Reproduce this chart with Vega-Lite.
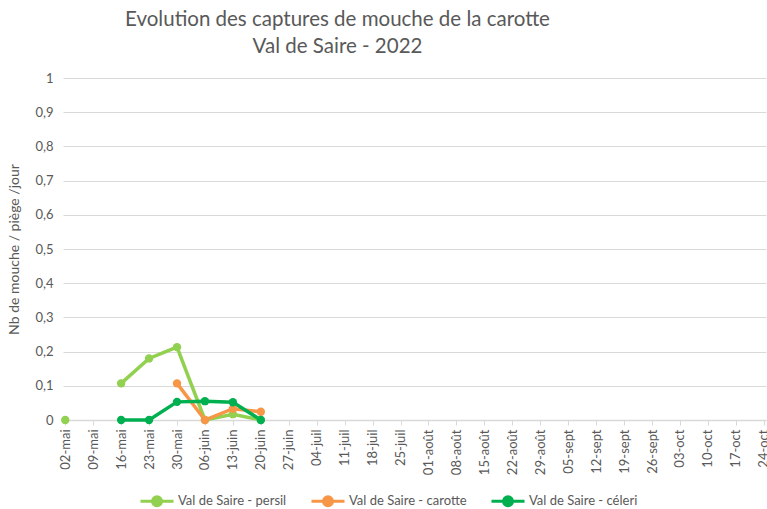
{
  "$schema": "https://vega.github.io/schema/vega-lite/v6.json",
  "width": 703,
  "height": 342,
  "autosize": {"type": "none"},
  "padding": {"left": 63, "top": 78, "right": 1, "bottom": 89},
  "background": "white",
  "title": {
    "text": ["Evolution des captures de mouche de la carotte", "Val de Saire - 2022"],
    "font": "Lato",
    "fontSize": 20.5,
    "fontWeight": "normal",
    "color": "#595959",
    "lineHeight": 27,
    "anchor": "middle",
    "dx": -77,
    "offset": 15
  },
  "config": {
    "view": {"stroke": null},
    "font": "Lato"
  },
  "data": {
    "values": [
      {"date": "02-mai", "serie": "Val de Saire - persil", "v": 0},
      {"date": "09-mai", "serie": "Val de Saire - persil", "v": null},
      {"date": "16-mai", "serie": "Val de Saire - persil", "v": 0.107},
      {"date": "23-mai", "serie": "Val de Saire - persil", "v": 0.18},
      {"date": "30-mai", "serie": "Val de Saire - persil", "v": 0.213},
      {"date": "06-juin", "serie": "Val de Saire - persil", "v": 0},
      {"date": "13-juin", "serie": "Val de Saire - persil", "v": 0.017},
      {"date": "20-juin", "serie": "Val de Saire - persil", "v": 0},
      {"date": "30-mai", "serie": "Val de Saire - carotte", "v": 0.107},
      {"date": "06-juin", "serie": "Val de Saire - carotte", "v": 0},
      {"date": "13-juin", "serie": "Val de Saire - carotte", "v": 0.033},
      {"date": "20-juin", "serie": "Val de Saire - carotte", "v": 0.024},
      {"date": "16-mai", "serie": "Val de Saire - céleri", "v": 0},
      {"date": "23-mai", "serie": "Val de Saire - céleri", "v": 0},
      {"date": "30-mai", "serie": "Val de Saire - céleri", "v": 0.053},
      {"date": "06-juin", "serie": "Val de Saire - céleri", "v": 0.055},
      {"date": "13-juin", "serie": "Val de Saire - céleri", "v": 0.052},
      {"date": "20-juin", "serie": "Val de Saire - céleri", "v": 0}
    ]
  },
  "encoding": {
    "x": {
      "field": "date",
      "type": "ordinal",
      "scale": {
        "type": "point",
        "padding": 0.08,
        "domain": ["02-mai", "09-mai", "16-mai", "23-mai", "30-mai", "06-juin", "13-juin", "20-juin", "27-juin", "04-juil", "11-juil", "18-juil", "25-juil", "01-août", "08-août", "15-août", "22-août", "29-août", "05-sept", "12-sept", "19-sept", "26-sept", "03-oct", "10-oct", "17-oct", "24-oct"]
      },
      "axis": {
        "title": null,
        "labelAngle": -90,
        "labelFont": "Lato",
        "labelFontSize": 13,
        "labelColor": "#595959",
        "labelPadding": 4,
        "labelOverlap": false,
        "domainColor": "#d9d9d9",
        "domainWidth": 1.5,
        "tickColor": "#d9d9d9",
        "tickSize": 5,
        "grid": false
      }
    },
    "y": {
      "field": "v",
      "type": "quantitative",
      "scale": {"domain": [0, 1], "nice": false},
      "axis": {
        "title": "Nb de mouche / piège /jour",
        "titleFont": "Lato",
        "titleFontSize": 14,
        "titleFontWeight": "normal",
        "titleColor": "#595959",
        "titlePadding": 13,
        "values": [0, 0.1, 0.2, 0.3, 0.4, 0.5, 0.6, 0.7, 0.8, 0.9, 1],
        "labelExpr": "replace(format(datum.value, '.1~f'), '.', ',')",
        "labelFont": "Lato",
        "labelFontSize": 13,
        "labelColor": "#595959",
        "labelPadding": 10,
        "domain": false,
        "ticks": false,
        "grid": true,
        "gridColor": "#d9d9d9",
        "gridWidth": 1
      }
    },
    "color": {
      "field": "serie",
      "type": "nominal",
      "scale": {
        "domain": ["Val de Saire - persil", "Val de Saire - carotte", "Val de Saire - céleri"],
        "range": ["#92d050", "#f79646", "#00b050"]
      },
      "legend": {
        "title": null,
        "orient": "none",
        "direction": "horizontal",
        "legendX": 76,
        "legendY": 405,
        "labelFont": "Lato",
        "labelFontSize": 13,
        "labelColor": "#595959",
        "labelOffset": 3,
        "columnPadding": 18,
        "symbolType": "M-1,0L1,0M0.27,0A0.27,0.27,0,1,1,-0.27,0A0.27,0.27,0,1,1,0.27,0Z",
        "symbolSize": 1089,
        "symbolStrokeWidth": 3,
        "encode": {
          "symbols": {"update": {"fill": {"scale": "color", "field": "value"}, "fillOpacity": {"value": 1}}}
        }
      }
    }
  },
  "layer": [
    {
      "mark": {"type": "line", "strokeWidth": 3.5, "invalid": "break-paths-filter-domains"}
    },
    {
      "mark": {"type": "circle", "size": 70, "opacity": 1}
    }
  ]
}
